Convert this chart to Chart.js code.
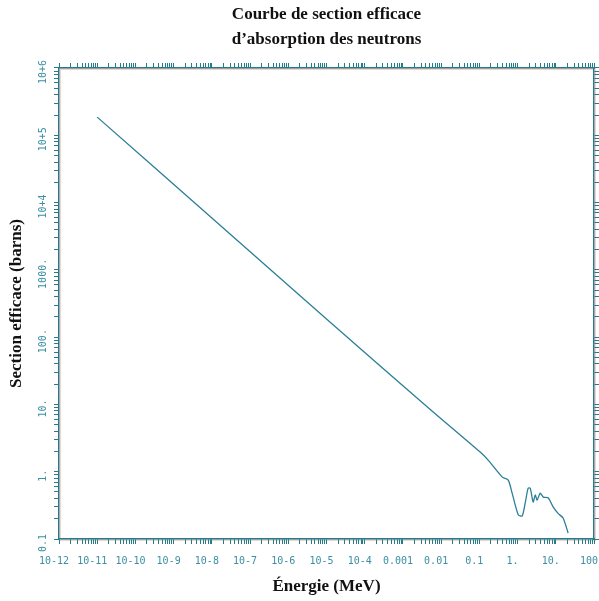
<!DOCTYPE html>
<html>
<head>
<meta charset="utf-8">
<script src="https://cdn.jsdelivr.net/npm/chart.js@4.4.1/dist/chart.umd.min.js"></script>
<style>
  html, body { margin: 0; padding: 0; background: #fff; }
  #wrap { width: 599px; height: 601px; }
</style>
</head>
<body>
<div id="wrap"><canvas id="chart"></canvas></div>
<script>
// valeurs (MeV, barns)
const energy = [1e-11, 1e-8, 1e-5, 5.1e-3, 0.105, 0.17, 0.40, 0.57, 0.72, 1.04, 1.32, 1.58, 1.89, 2.14, 2.56, 2.89, 3.26, 3.9, 4.7, 6.3, 8.5, 11.5, 15.5, 21];
const sigma = [1.86e5, 5.9e3, 186, 8.5, 1.96, 1.49, 0.83, 0.75, 0.48, 0.23, 0.22, 0.34, 0.57, 0.57, 0.355, 0.45, 0.38, 0.48, 0.42, 0.41, 0.30, 0.24, 0.205, 0.123];

const xDecades = [1e-12, 1e-11, 1e-10, 1e-9, 1e-8, 1e-7, 1e-6, 1e-5, 1e-4, 1e-3, 1e-2, 0.1, 1, 10, 100];
const xTickLabels = ["10-12", "10-11", "10-10", "10-9", "10-8", "10-7", "10-6", "10-5", "10-4", "0.001", "0.01", "0.1", "1.", "10.", "100"];
const yDecades = [0.1, 1, 10, 100, 1000, 1e4, 1e5, 1e6];
const yTickLabels = ["0.1", "1.", "10.", "100.", "1000.", "10+4", "10+5", "10+6"];

const teal = "#1f7d8c";
const labelTeal = "#3b8ea3";
const monoFont = { family: "'DejaVu Sans Mono', monospace", size: 10 };
const serifBold = { family: "'Liberation Serif', serif", size: 17, weight: "bold" };

function logTicks(decades) {
  const t = [];
  for (let i = 0; i < decades.length; i++) {
    t.push({ value: decades[i] });
    if (i < decades.length - 1) {
      for (let m = 2; m <= 9; m++) t.push({ value: decades[i] * m });
    }
  }
  return t;
}

function decadeIndex(v, decades) {
  for (let i = 0; i < decades.length; i++) {
    if (Math.abs(v / decades[i] - 1) < 1e-6) return i;
  }
  return -1;
}

function noPad(s) {
  s.paddingLeft = 0;
  s.paddingRight = 0;
  s.paddingTop = 0;
  s.paddingBottom = 0;
}

const gridOpts = {
  drawOnChartArea: false,
  drawTicks: true,
  tickLength: 5,
  color: teal,
  tickWidth: 1
};
const borderOpts = { color: teal, width: 1.4 };

// liseré rougeâtre autour du cadre, comme sur l'original
const fringePlugin = {
  id: "fringe",
  beforeDraw(chart) {
    const a = chart.chartArea;
    const ctx = chart.ctx;
    ctx.save();
    ctx.strokeStyle = "rgba(235,120,100,0.35)";
    ctx.lineWidth = 2;
    ctx.strokeRect(a.left + 1, a.top + 1, a.right - a.left, a.bottom - a.top);
    ctx.restore();
  }
};

// étiquettes verticales de l'axe y
const yLabelPlugin = {
  id: "yLabels",
  afterDraw(chart) {
    const sc = chart.scales.y;
    const ctx = chart.ctx;
    ctx.save();
    ctx.font = "10px 'DejaVu Sans Mono', monospace";
    ctx.fillStyle = labelTeal;
    ctx.textAlign = "center";
    ctx.textBaseline = "middle";
    for (let i = 0; i < yDecades.length; i++) {
      const py = sc.getPixelForValue(yDecades[i]) + 4;
      ctx.save();
      ctx.translate(43, py);
      ctx.rotate(-Math.PI / 2);
      ctx.fillText(yTickLabels[i], 0, 0);
      ctx.restore();
    }
    ctx.restore();
  }
};

const chart = new Chart(document.getElementById("chart"), {
  type: "line",
  data: {
    datasets: [{
      data: energy.map((e, i) => ({ x: e, y: sigma[i] })),
      borderColor: "#2a7f96",
      borderWidth: 1.3,
      pointRadius: 0,
      tension: 0.25,
      fill: false
    }]
  },
  options: {
    responsive: true,
    maintainAspectRatio: false,
    animation: false,
    layout: { padding: 0 },
    plugins: {
      legend: { display: false },
      tooltip: { enabled: false },
      title: {
        display: true,
        text: ["Courbe de section efficace", "d\u2019absorption des neutrons"],
        color: "#111",
        font: { ...serifBold, lineHeight: 1.47 },
        padding: { top: 2, bottom: 0 },
        fullSize: false
      }
    },
    scales: {
      x: {
        type: "logarithmic",
        position: "bottom",
        min: 1e-12,
        max: 100,
        afterBuildTicks: (s) => { s.ticks = logTicks(xDecades); },
        afterFit: (s) => { s.height = 62; noPad(s); },
        ticks: {
          autoSkip: false,
          maxRotation: 0,
          minRotation: 0,
          padding: 11,
          labelOffset: -5,
          color: labelTeal,
          font: monoFont,
          callback: (v) => {
            const i = decadeIndex(v, xDecades);
            return i >= 0 ? xTickLabels[i] : "";
          }
        },
        grid: gridOpts,
        border: borderOpts,
        title: {
          display: true,
          text: "\u00c9nergie (MeV)",
          color: "#111",
          font: serifBold,
          padding: { top: 0, bottom: 4 }
        }
      },
      x2: {
        type: "logarithmic",
        position: "top",
        min: 1e-12,
        max: 100,
        afterBuildTicks: (s) => { s.ticks = logTicks(xDecades); },
        afterFit: (s) => { s.height = 16; noPad(s); },
        ticks: { display: false, autoSkip: false },
        grid: gridOpts,
        border: borderOpts
      },
      y: {
        type: "logarithmic",
        position: "left",
        min: 0.1,
        max: 1e6,
        afterBuildTicks: (s) => { s.ticks = logTicks(yDecades); },
        afterFit: (s) => { s.width = 59; noPad(s); },
        ticks: { display: false, autoSkip: false },
        grid: gridOpts,
        border: borderOpts,
        title: {
          display: true,
          text: "Section efficace (barns)",
          color: "#111",
          font: serifBold,
          padding: { top: 6, bottom: 0 }
        }
      },
      y2: {
        type: "logarithmic",
        position: "right",
        min: 0.1,
        max: 1e6,
        afterBuildTicks: (s) => { s.ticks = logTicks(yDecades); },
        afterFit: (s) => { s.width = 5; noPad(s); },
        ticks: { display: false, autoSkip: false },
        grid: gridOpts,
        border: borderOpts
      }
    }
  },
  plugins: [fringePlugin, yLabelPlugin]
});
</script>
</body>
</html>
